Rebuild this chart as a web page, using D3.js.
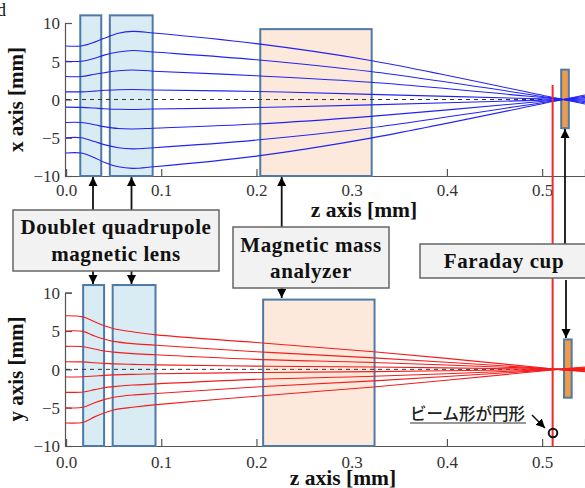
<!DOCTYPE html>
<html><head><meta charset="utf-8">
<script src="https://cdn.jsdelivr.net/npm/d3@7"></script>
<style>html,body{margin:0;padding:0;background:#fff;overflow:hidden}svg{display:block}</style>
</head><body><svg id="c" width="585" height="488"></svg>
<script>
const zTicks = [0, 0.1, 0.2, 0.3, 0.4, 0.5];
const yTicks = [-10, -5, 0, 5, 10];
const zStopsX = [0, 0.016, 0.03, 0.04, 0.055, 0.07, 0.092, 0.2, 0.32, 0.51, 0.522, 0.545];
const raysX = [
  [7, 7, 7.5, 8.0, 8.65, 8.9, 8.7, 7.3, 5.1, 0.3, 0, -0.58],
  [5, 5, 5.4, 5.8, 6.2, 6.4, 6.2, 5.2, 3.65, 0.22, 0, -0.42],
  [3, 3, 3.3, 3.5, 3.75, 3.85, 3.7, 3.1, 2.25, 0.14, 0, -0.26],
  [1, 1, 1.1, 1.2, 1.27, 1.3, 1.25, 1.05, 0.67, 0.05, 0, -0.08],
  [-1, -1.03, -1.12, -1.2, -1.28, -1.3, -1.25, -1.05, -0.7, -0.05, 0, 0.08],
  [-3, -3, -3.3, -3.55, -3.8, -3.85, -3.75, -3.2, -2.2, -0.14, 0, 0.26],
  [-5, -5, -5.5, -5.9, -6.3, -6.45, -6.3, -5.3, -3.7, -0.22, 0, 0.42],
  [-7, -7, -7.6, -8.2, -8.8, -9, -8.8, -7.4, -5.05, -0.3, 0, 0.58]
];
const zStopsY = [0, 0.018, 0.03, 0.04, 0.05, 0.07, 0.095, 0.2, 0.323, 0.505, 0.516, 0.545];
const raysY = [
  [7, 6.85, 6.2, 5.7, 5.3, 4.9, 4.5, 3.5, 2.3, 0.15, 0, -0.3],
  [5, 4.95, 4.35, 3.95, 3.65, 3.35, 3.15, 2.3, 1.5, 0.1, 0, -0.2],
  [3, 2.95, 2.65, 2.4, 2.25, 2.05, 1.9, 1.3, 0.9, 0.06, 0, -0.12],
  [1, 0.97, 0.87, 0.78, 0.72, 0.65, 0.58, 0.42, 0.3, 0.02, 0, -0.04],
  [-1, -0.97, -0.87, -0.78, -0.72, -0.65, -0.58, -0.42, -0.3, -0.02, 0, 0.04],
  [-3, -2.95, -2.65, -2.4, -2.25, -2.05, -1.9, -1.3, -0.9, -0.06, 0, 0.12],
  [-5, -4.95, -4.35, -3.95, -3.65, -3.35, -3.15, -2.3, -1.5, -0.1, 0, 0.2],
  [-7, -6.9, -6.2, -5.7, -5.3, -4.95, -4.6, -3.5, -2.3, -0.15, 0, 0.3]
];
// [zStart, zEnd, top, bottom, kind]
const partsX = [[0.015,0.037,11,-10,"lens"],[0.046,0.091,11,-10,"lens"],[0.204,0.321,9.2,-10,"magnet"],[0.52,0.528,3.9,-3.75,"cup"]];
const partsY = [[0.018,0.040,11,-10,"lens"],[0.049,0.094,11,-10,"lens"],[0.207,0.324,9.1,-10,"magnet"],[0.523,0.531,3.9,-3.7,"cup"]];
const partFill = {lens:"#d9ebf3", magnet:"#fce9dc", cup:"#ee9b4a"};
const screenZ = 0.511;
const labelXAxis = "x axis [mm]", labelYAxis = "y axis [mm]", labelZ = "z axis [mm]";

const svg = d3.select("#c");
const serif = "'Liberation Serif','Times New Roman',serif";
const defs = svg.append("defs");
defs.append("marker").attr("id","ah").attr("viewBox","0 0 8 8").attr("refX",8).attr("refY",4)
  .attr("markerUnits","userSpaceOnUse").attr("markerWidth",9).attr("markerHeight",10).attr("orient","auto")
  .append("path").attr("d","M0,0L8,4L0,8Z").attr("fill","#000");

const zScale = d3.scaleLinear().domain([0, 0.545]).range([66, 585]);

function panel(top, bottom, parts, zStops, rays, color, yLabel, zLabelY, tickY, labelYc, zLabelX){
  const y = d3.scaleLinear().domain([-10, 10]).range([bottom, top]);
  const g = svg.append("g");
  // axes
  const ax = g.append("g").attr("transform",`translate(0,${bottom})`)
    .call(d3.axisBottom(zScale).tickValues(zTicks).tickFormat(d3.format(".1f")).tickSize(-7).tickPadding(0));
  const ay = g.append("g").attr("transform","translate(65,0)")
    .call(d3.axisLeft(y).tickValues(yTicks).tickFormat(d3.format("d")).tickSize(-7).tickPadding(0));
  [ax, ay].forEach(a => { a.selectAll("line,path").attr("stroke","#555").attr("stroke-width",1.2);
    a.selectAll("text").attr("font-family",serif).attr("font-size",17).attr("fill","#333"); });
  ax.selectAll("text").attr("y",null).attr("dy",null).attr("transform",`translate(0,${tickY-bottom})`);
  ay.selectAll("text").attr("x",-5).attr("dy","0.34em");
  // parts
  g.selectAll("rect.part").data(parts).join("rect").attr("class","part")
    .attr("x",d=>zScale(d[0])).attr("width",d=>zScale(d[1])-zScale(d[0]))
    .attr("y",d=>y(d[2])).attr("height",d=>y(d[3])-y(d[2]))
    .attr("fill",d=>partFill[d[4]]).attr("stroke","#4f79a7").attr("stroke-width",2);
  // centre axis
  g.append("line").attr("x1",zScale(0)).attr("x2",zScale(0.5)).attr("y1",y(0)).attr("y2",y(0))
    .attr("stroke","#333").attr("stroke-width",1).attr("stroke-dasharray","4 4");
  // rays
  const line = d3.line().x((d,i)=>zScale(zStops[i])).y(d=>y(d)).curve(d3.curveCatmullRom.alpha(0.5));
  g.selectAll("path.ray").data(rays).join("path").attr("class","ray").attr("d",line)
    .attr("fill","none").attr("stroke",color).attr("stroke-width",1.1);
  // labels
  g.append("text").attr("transform",`translate(23,${labelYc}) rotate(-90)`).attr("text-anchor","middle")
    .attr("font-family",serif).attr("font-weight","bold").attr("font-size",21).attr("fill","#111").text(yLabel);
  g.append("text").attr("x",zLabelX).attr("y",zLabelY).attr("text-anchor","middle")
    .attr("font-family",serif).attr("font-weight","bold").attr("font-size",21.5).attr("fill","#111").text(labelZ);
  return y;
}
const yTop = panel(23, 176, partsX, zStopsX, raysX, "#2222f5", labelXAxis, 217, 196, 99.5, 364);
const yBot = panel(292.7, 446, partsY, zStopsY, raysY, "#f51c1c", labelYAxis, 485, 468, 369, 343);

// screen line
svg.append("line").attr("x1",zScale(screenZ)).attr("x2",zScale(screenZ)).attr("y1",85).attr("y2",446)
  .attr("stroke","#f5272b").attr("stroke-width",2);

// arrows
const arrows = [[93,210,93,177],[131.5,210,131.5,177],[281.7,227,281.7,177],[565,244,565,129],
  [93,271,93,284],[131.5,271,131.5,284],[281.7,288,281.7,298],[566,280,566,338]];
svg.selectAll("line.arrow").data(arrows).join("line").attr("class","arrow")
  .attr("x1",d=>d[0]).attr("y1",d=>d[1]).attr("x2",d=>d[2]).attr("y2",d=>d[3])
  .attr("stroke","#111").attr("stroke-width",1.8).attr("marker-end","url(#ah)");

// callouts
const boxes = [[13,210,206,61],[233,227,156,61],[420,244,180,34]];
svg.selectAll("rect.box").data(boxes).join("rect").attr("class","box")
  .attr("x",d=>d[0]).attr("y",d=>d[1]).attr("width",d=>d[2]).attr("height",d=>d[3])
  .attr("fill","#f2f2f2").attr("stroke","#666").attr("stroke-width",1.5);
const boxText = [["Doublet quadrupole",116,234],["magnetic lens",116,261],["Magnetic mass",311,252],["analyzer",311,278],["Faraday cup",504,268]];
svg.selectAll("text.box").data(boxText).join("text").attr("class","box")
  .attr("x",d=>d[1]).attr("y",d=>d[2]).attr("text-anchor","middle")
  .attr("font-family",serif).attr("font-weight","bold").attr("font-size",21).attr("letter-spacing",0.6)
  .attr("fill","#111").text(d=>d[0]);

// note
svg.append("text").attr("x",410).attr("y",420).attr("font-family","'Noto Sans CJK JP'").attr("font-weight",500).attr("font-size",16.5)
  .attr("fill","#222").text("ビーム形が円形");
svg.append("line").attr("x1",410).attr("x2",526).attr("y1",423).attr("y2",423).attr("stroke","#333").attr("stroke-width",1.2);
svg.append("line").attr("x1",532).attr("y1",415).attr("x2",545).attr("y2",428).attr("stroke","#111").attr("stroke-width",1.5).attr("marker-end","url(#ah)");
svg.append("circle").attr("cx",553).attr("cy",433).attr("r",4.3).attr("fill","none").attr("stroke","#111").attr("stroke-width",2);
svg.append("text").attr("x",-3).attr("y",16).attr("font-family",serif).attr("font-size",18).attr("fill","#111").text("d");
</script></body></html>
